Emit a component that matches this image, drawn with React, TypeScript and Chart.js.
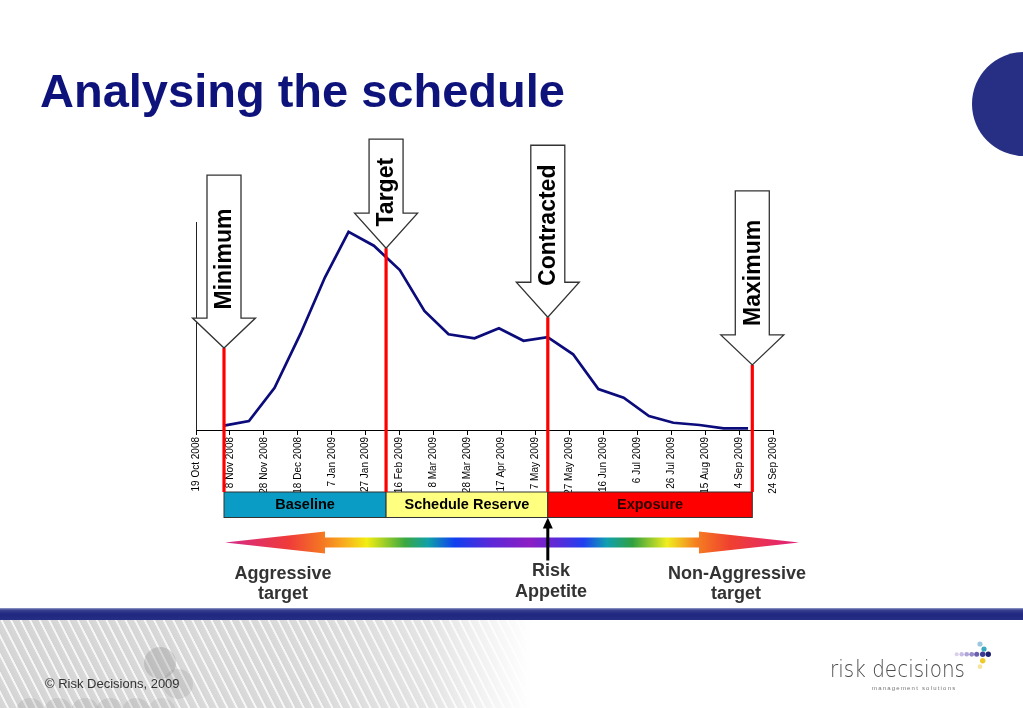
import React, { useEffect, useRef } from "react";
import { Chart, registerables } from "chart.js";

Chart.register(...registerables);

// ---------------- data ----------------
const tickLabels = [
  "19 Oct 2008", "8 Nov 2008", "28 Nov 2008", "18 Dec 2008", "7 Jan 2009", "27 Jan 2009",
  "16 Feb 2009", "8 Mar 2009", "28 Mar 2009", "17 Apr 2009", "7 May 2009", "27 May 2009",
  "16 Jun 2009", "6 Jul 2009", "26 Jul 2009", "15 Aug 2009", "4 Sep 2009", "24 Sep 2009",
];
const tickStepDays = 20;
const axisMaxDays = 340;

// days after 19 Oct 2008
const curveDays = [
  16.5, 31.2, 46.3, 61.6, 76, 89.9, 104.8, 120.1, 134.6, 148.8, 164.1,
  178.5, 193, 207.2, 222.2, 237.1, 252, 266.9, 281.3, 296.7, 310.9, 325.3,
];
const curveValues = [
  2.1, 4.3, 20.3, 46.3, 73.4, 95.3, 88.6, 76.9, 57.2, 46, 44.1,
  48.9, 42.9, 44.6, 36.4, 19.7, 15.5, 6.7, 3.5, 2.4, 0.8, 0.8,
];

const markerLabels = ["Minimum", "Target", "Contracted", "Maximum"];
const markerDays = [16.5, 112, 207.3, 327.8];
const markerLevels = [39.4, 87.4, 54.2, 31.3];

const bandLabels = ["Baseline", "Schedule Reserve", "Exposure"];

const leftScaleText = ["Aggressive", "target"];
const midScaleText = ["Risk", "Appetite"];
const rightScaleText = ["Non-Aggressive", "target"];

const titleText = "Analysing the schedule";
const copyrightText = "\u00A9 Risk Decisions, 2009";
const logoText = "risk decisions";
const logoSubText = "management solutions";

// ---------------- styles ----------------
const FONT = '"Liberation Sans", Arial, Helvetica, sans-serif';
const arrowShaftLen = [143, 74, 137, 144];
const arrowHeadLen = [30, 35, 35, 30];
const arrowTextOffset = [89, 56, 92, 92];
const arrowShaftW = 34;
const arrowHeadW = 63;
const bandColors = ["#0a9cc4", "#ffff80", "#ff0000"];
const bandTextColors = ["#000000", "#000000", "#2a0000"];
const gradStops: [number, string][] = [
  [0, "#d42a8a"],
  [0.11, "#ef3a3a"],
  [0.172, "#f57a22"],
  [0.21, "#f8b01e"],
  [0.247, "#f2ee12"],
  [0.314, "#3aa842"],
  [0.354, "#10a0a8"],
  [0.4, "#1040f0"],
  [0.462, "#5a28d8"],
  [0.53, "#8c1ec4"],
  [0.58, "#5a2ad8"],
  [0.625, "#2040f0"],
  [0.665, "#10a0b0"],
  [0.71, "#30a040"],
  [0.77, "#f0ee20"],
  [0.82, "#f58020"],
  [0.88, "#f04030"],
  [1, "#e02080"],
];

const slidePlugin = {
  id: "slide",
  afterDatasetsDraw(chart: any) {
    const { ctx, chartArea, scales } = chart;
    const xs = scales.x;
    const ys = scales.y;
    ctx.save();

    // y axis line
    const lx = Math.round(chartArea.left) + 0.5;
    ctx.strokeStyle = "#222";
    ctx.lineWidth = 1;
    ctx.beginPath();
    ctx.moveTo(lx, chartArea.top);
    ctx.lineTo(lx, chartArea.bottom);
    ctx.stroke();

    const mx = markerDays.map((d) => xs.getPixelForValue(d));
    const bandTop = chartArea.bottom + 62;
    const bandH = 25.5;

    // band
    for (let i = 0; i < bandLabels.length; i++) {
      const w = mx[i + 1] - mx[i];
      ctx.fillStyle = bandColors[i];
      ctx.fillRect(mx[i], bandTop, w, bandH);
      ctx.strokeStyle = "#333";
      ctx.lineWidth = 1;
      ctx.strokeRect(mx[i], bandTop, w, bandH);
      ctx.fillStyle = bandTextColors[i];
      ctx.font = `bold 14.5px ${FONT}`;
      ctx.textAlign = "center";
      ctx.textBaseline = "middle";
      ctx.fillText(bandLabels[i], mx[i] + w / 2, bandTop + bandH / 2 + 0.5);
    }

    // red marker lines
    ctx.strokeStyle = "#ff0000";
    ctx.lineWidth = 3.2;
    for (let i = 0; i < markerDays.length; i++) {
      ctx.beginPath();
      ctx.moveTo(mx[i], ys.getPixelForValue(markerLevels[i]));
      ctx.lineTo(mx[i], bandTop);
      ctx.stroke();
    }

    // block arrows
    for (let i = 0; i < markerDays.length; i++) {
      const cx = mx[i];
      const tip = ys.getPixelForValue(markerLevels[i]);
      const headTop = tip - arrowHeadLen[i];
      const shaftTop = headTop - arrowShaftLen[i];
      ctx.beginPath();
      ctx.moveTo(cx - arrowShaftW / 2, shaftTop);
      ctx.lineTo(cx + arrowShaftW / 2, shaftTop);
      ctx.lineTo(cx + arrowShaftW / 2, headTop);
      ctx.lineTo(cx + arrowHeadW / 2, headTop);
      ctx.lineTo(cx, tip);
      ctx.lineTo(cx - arrowHeadW / 2, headTop);
      ctx.lineTo(cx - arrowShaftW / 2, headTop);
      ctx.closePath();
      ctx.fillStyle = "#ffffff";
      ctx.fill();
      ctx.strokeStyle = "#333";
      ctx.lineWidth = 1.3;
      ctx.stroke();

      ctx.save();
      ctx.translate(cx + 1, tip - arrowTextOffset[i]);
      ctx.rotate(-Math.PI / 2);
      ctx.fillStyle = "#000";
      ctx.font = `bold 23px ${FONT}`;
      ctx.textAlign = "center";
      ctx.textBaseline = "middle";
      ctx.fillText(markerLabels[i], 0, 0);
      ctx.restore();
    }

    // rainbow double arrow
    const gL = 225, gR = 799, gC = 542.5, shaftHalf = 5, headHalf = 11, headLen = 100;
    const grad = ctx.createLinearGradient(gL, 0, gR, 0);
    gradStops.forEach(([o, c]) => grad.addColorStop(o, c));
    ctx.beginPath();
    ctx.moveTo(gL, gC);
    ctx.lineTo(gL + headLen, gC - headHalf);
    ctx.lineTo(gL + headLen, gC - shaftHalf);
    ctx.lineTo(gR - headLen, gC - shaftHalf);
    ctx.lineTo(gR - headLen, gC - headHalf);
    ctx.lineTo(gR, gC);
    ctx.lineTo(gR - headLen, gC + headHalf);
    ctx.lineTo(gR - headLen, gC + shaftHalf);
    ctx.lineTo(gL + headLen, gC + shaftHalf);
    ctx.lineTo(gL + headLen, gC + headHalf);
    ctx.closePath();
    ctx.fillStyle = grad;
    ctx.fill();

    // risk appetite pointer
    const rx = mx[2];
    const rTop = bandTop + bandH;
    ctx.strokeStyle = "#000";
    ctx.lineWidth = 3;
    ctx.beginPath();
    ctx.moveTo(rx, rTop + 8);
    ctx.lineTo(rx, rTop + 43);
    ctx.stroke();
    ctx.fillStyle = "#000";
    ctx.beginPath();
    ctx.moveTo(rx, rTop);
    ctx.lineTo(rx + 5, rTop + 11);
    ctx.lineTo(rx - 5, rTop + 11);
    ctx.closePath();
    ctx.fill();

    // scale captions
    ctx.fillStyle = "#333333";
    ctx.font = `bold 18px ${FONT}`;
    ctx.textAlign = "center";
    ctx.textBaseline = "alphabetic";
    ctx.fillText(leftScaleText[0], 283, 579);
    ctx.fillText(leftScaleText[1], 283, 599);
    ctx.fillText(midScaleText[0], 551, 576);
    ctx.fillText(midScaleText[1], 551, 597);
    ctx.fillText(rightScaleText[0], 737, 579);
    ctx.fillText(rightScaleText[1], 736, 599);

    ctx.restore();
  },
  afterDraw(chart: any) {
    const { ctx } = chart;
    ctx.save();
    // title
    ctx.fillStyle = "#0d137a";
    ctx.font = `bold 47px ${FONT}`;
    ctx.textAlign = "left";
    ctx.textBaseline = "alphabetic";
    ctx.fillText(titleText, 40, 107);

    // copyright
    ctx.fillStyle = "#333";
    ctx.font = `13px ${FONT}`;
    ctx.fillText(copyrightText, 45, 688);

    // logo
    ctx.save();
    ctx.font = `200 23px "DejaVu Sans", sans-serif`;
    const w = ctx.measureText(logoText).width;
    ctx.translate(830, 677);
    ctx.scale(135 / w, 1);
    ctx.fillStyle = "#4a4a4a";
    ctx.fillText(logoText, 0, 0);
    ctx.restore();

    ctx.save();
    ctx.font = `6px ${FONT}`;
    (ctx as any).letterSpacing = "1.2px";
    ctx.fillStyle = "#777";
    ctx.fillText(logoSubText, 872, 690);
    ctx.restore();

    const dots: [number, number, number, string][] = [
      [980, 644, 2.6, "#9cc8e0"],
      [984, 649, 2.6, "#3aa8c0"],
      [956.7, 654.3, 2, "#d8d0ec"],
      [961.7, 654.3, 2.2, "#c8bce4"],
      [966.7, 654.3, 2.3, "#b0a4d8"],
      [971.7, 654.3, 2.4, "#9488c8"],
      [976.7, 654.3, 2.5, "#6a60b0"],
      [982.7, 654.3, 2.7, "#3a3a94"],
      [988.3, 654.3, 2.7, "#1c2070"],
      [982.7, 660.7, 2.7, "#f0c828"],
      [980, 666.7, 2.4, "#f6e49a"],
    ];
    dots.forEach(([x, y, r, c]) => {
      ctx.fillStyle = c;
      ctx.beginPath();
      ctx.arc(x, y, r, 0, Math.PI * 2);
      ctx.fill();
    });
    ctx.restore();
  },
};

export default function App() {
  const ref = useRef<HTMLCanvasElement>(null);

  useEffect(() => {
    if (!ref.current) return;
    const chart = new Chart(ref.current, {
      type: "line",
      data: {
        datasets: [
          {
            data: curveDays.map((d, i) => ({ x: d, y: curveValues[i] })),
            borderColor: "#0b0b7c",
            borderWidth: 2.7,
            pointRadius: 0,
            tension: 0,
            fill: false,
          },
        ],
      },
      options: {
        animation: false,
        responsive: false,
        events: [],
        layout: { padding: { left: 196, right: 250, top: 222, bottom: 208 } },
        plugins: { legend: { display: false }, tooltip: { enabled: false } },
        scales: {
          x: {
            type: "linear",
            min: 0,
            max: axisMaxDays,
            afterFit: (s: any) => {
              s.height = 70;
            },
            ticks: {
              stepSize: tickStepDays,
              autoSkip: false,
              maxRotation: 90,
              minRotation: 90,
              padding: 2,
              color: "#000",
              font: { family: FONT, size: 10 },
              callback: (v: any) => tickLabels[Math.round(Number(v) / tickStepDays)] ?? "",
            },
            grid: { drawOnChartArea: false, drawTicks: true, tickLength: 5, color: "#000" },
            border: { display: true, color: "#000", width: 1 },
          },
          y: { display: false, min: 0, max: 100 },
        },
      },
      plugins: [slidePlugin],
    } as any);
    return () => chart.destroy();
  }, []);

  return (
    <div
      style={{
        position: "absolute",
        left: 0,
        top: 0,
        width: 1023,
        height: 708,
        overflow: "hidden",
        background: "#ffffff",
      }}
    >
      <div
        style={{
          position: "absolute",
          left: 972,
          top: 52,
          width: 104,
          height: 104,
          borderRadius: "50%",
          background: "#262f84",
        }}
      />
      <div
        style={{
          position: "absolute",
          left: 0,
          top: 620,
          width: 1023,
          height: 88,
          background:
            "linear-gradient(to right, rgba(255,255,255,0) 0%, rgba(255,255,255,0.1) 30%, rgba(255,255,255,0.35) 42%, rgba(255,255,255,1) 52%), repeating-linear-gradient(63deg, #d4d4d4 0px, #d8d8d8 6px, #f6f6f6 6.5px, #f6f6f6 8px, #d4d4d4 8.5px)",
        }}
      />
      {[
        [160, 663, 16, 0.26],
        [178, 684, 15, 0.16],
        [30, 712, 14, 0.16],
        [58, 712, 14, 0.16],
        [85, 712, 14, 0.16],
        [110, 712, 14, 0.16],
        [136, 712, 14, 0.16],
        [162, 712, 14, 0.12],
      ].map(([x, y, r, a], i) => (
        <div
          key={i}
          style={{
            position: "absolute",
            left: x - r,
            top: y - r,
            width: r * 2,
            height: r * 2,
            borderRadius: "50%",
            background: `rgba(120,120,120,${a})`,
          }}
        />
      ))}
      <div
        style={{
          position: "absolute",
          left: 0,
          top: 608,
          width: 1023,
          height: 12,
          background: "linear-gradient(#9aa0cc 0px, #3a4290 2px, #1f2780 6px, #252d84 12px)",
        }}
      />
      <canvas
        ref={ref}
        width={1023}
        height={708}
        style={{ position: "absolute", left: 0, top: 0, width: 1023, height: 708 }}
      />
    </div>
  );
}
